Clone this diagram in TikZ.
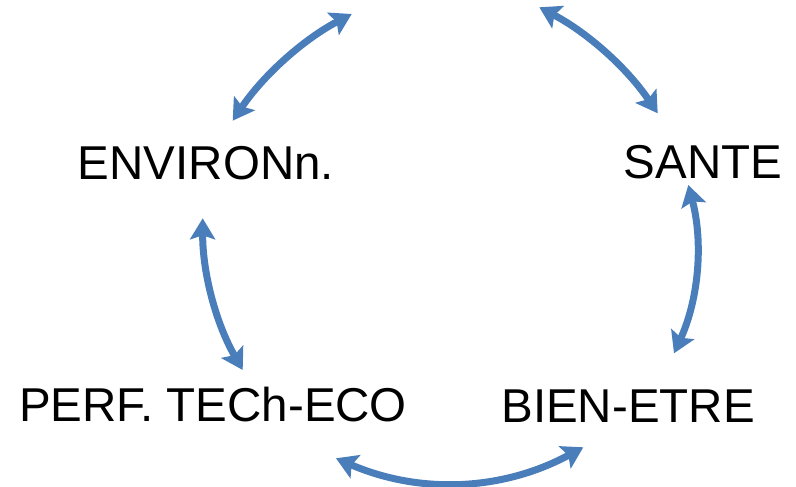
\documentclass[tikz,border=0pt]{standalone}
\usepackage{fontspec}
\setmainfont{Liberation Sans}
\usetikzlibrary{arrows.meta}
\definecolor{arrowblue}{HTML}{4A7EBB}
\tikzset{
  label text/.style={anchor=base, inner sep=0pt, font=\fontsize{47.5}{56}\selectfont, text=black},
  cyclearrow/.style={draw=arrowblue, line width=7pt,
    {Stealth[length=21pt,width=25pt,inset=4pt]}-{Stealth[length=21pt,width=25pt,inset=4pt]}}
}
\begin{document}
\begin{tikzpicture}[x=1pt,y=-1pt]
\useasboundingbox (0,0) rectangle (796,487);
% text nodes
\node[label text] (env) at (206,179) {ENVIRONn.};
\node[label text] (sante) at (703,178) {SANTE};
\node[label text] (perf) at (213,421.5) {PERF. TECh-ECO};
\node[label text] (bien) at (628,422) {BIEN-ETRE};
% arrow end points
\coordinate (a1s) at (232.7,120.7);
\coordinate (a1e) at (351.7,14);
\coordinate (a2s) at (539.3,7.3);
\coordinate (a2e) at (657.7,113.3);
\coordinate (a3s) at (688.3,185);
\coordinate (a3e) at (674,353.3);
\coordinate (a4s) at (336,458.3);
\coordinate (a4e) at (583.3,447.3);
\coordinate (a5s) at (202.7,218.3);
\coordinate (a5e) at (242.7,370);
% connectors
\draw[cyclearrow] (a1s) .. controls (263.4,75.2) and (303.1,39.6) .. (a1e);
\draw[cyclearrow] (a2s) .. controls (587.6,32.7) and (627.1,68.0) .. (a2e);
\draw[cyclearrow] (a3s) .. controls (703.5,242.8) and (698.7,298.9) .. (a3e);
\draw[cyclearrow] (a4s) .. controls (420.3,494.6) and (502.7,490.9) .. (a4e);
\draw[cyclearrow] (a5s) .. controls (202.5,272.5) and (215.8,323.1) .. (a5e);
\end{tikzpicture}
\end{document}
